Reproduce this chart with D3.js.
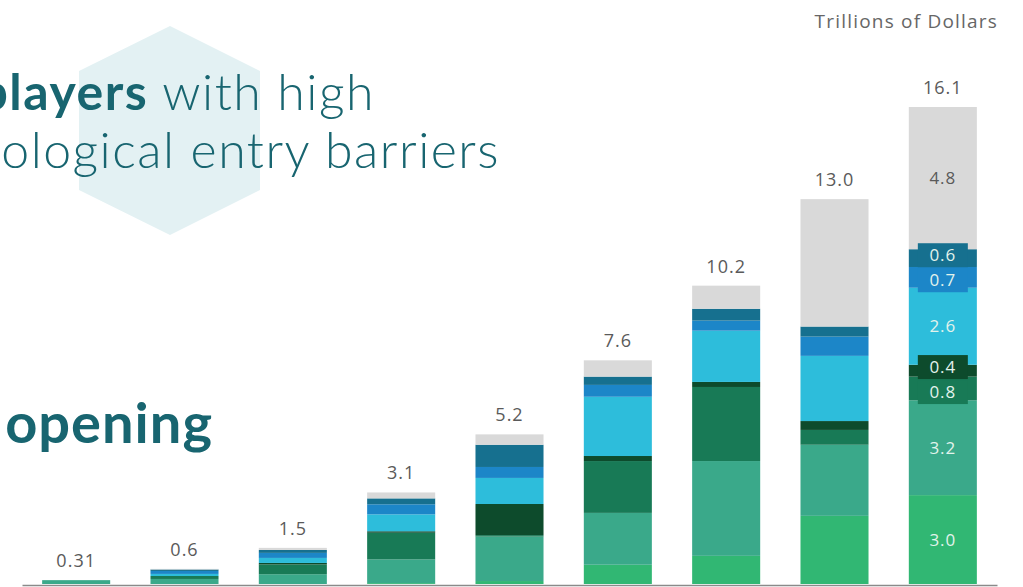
<!DOCTYPE html>
<html>
<head>
<meta charset="utf-8">
<script src="https://cdn.jsdelivr.net/npm/d3@7"></script>
<style>
  body { margin: 0; background: #fff; overflow: hidden; }
  svg { display: block; }
</style>
</head>
<body>
<div id="chart"></div>
<script>
// bars, left to right (no axis labels visible in the picture)
var categories = ["P1", "P2", "P3", "P4", "P5", "P6", "P7", "P8", "P9"];
var totals = ["0.31", "0.6", "1.5", "3.1", "5.2", "7.6", "10.2", "13.0", "16.1"];

// stacked segments, bottom to top
var seriesNames = ["lightGreen", "teal", "midGreen", "darkGreen", "cyan", "blue", "darkBlue", "grey"];
var lightGreen = [0,    0,    0,    0.03, 0.1,  0.65, 0.95, 2.3,  3.0];
var teal       = [0.13, 0.17, 0.33, 0.8,  1.5,  1.75, 3.2,  2.4,  3.2];
var midGreen   = [0,    0.1,  0.33, 0.9,  0.05, 1.75, 2.5,  0.5,  0.8];
var darkGreen  = [0,    0,    0.05, 0.05, 1.05, 0.17, 0.17, 0.3,  0.4];
var cyan       = [0,    0.07, 0.17, 0.57, 0.88, 2.0,  1.73, 2.2,  2.6];
var blue       = [0,    0.1,  0.17, 0.34, 0.37, 0.4,  0.34, 0.65, 0.7];
var darkBlue   = [0,    0.05, 0.1,  0.2,  0.75, 0.28, 0.4,  0.34, 0.6];
var grey       = [0,    0.02, 0.07, 0.2,  0.35, 0.55, 0.78, 4.3,  4.8];

var colors = {
  lightGreen: "#31b773", teal: "#3aa98a", midGreen: "#187a56", darkGreen: "#0d4b2c",
  cyan: "#2dbddb", blue: "#1c86c8", darkBlue: "#16708f", grey: "#d9d9d9"
};
var labelledBar = 8; // only the last bar carries segment labels

var W = 1023, H = 587;
var svg = d3.select("#chart").append("svg")
    .attr("width", W)
    .attr("height", H);

// hexagon behind the headline
var hex = [[170, 26], [260, 71], [260, 190], [170, 235], [79, 190], [79, 71]];
svg.append("path")
    .attr("d", "M" + hex.join("L") + "Z")
    .attr("fill", "#e3f1f3");

var ink = "#186570";
var t1 = svg.append("text")
    .attr("x", 375).attr("y", 110)
    .attr("text-anchor", "end")
    .style("font-family", "Lato, sans-serif")
    .style("font-size", "50px")
    .style("letter-spacing", "1.5px")
    .attr("fill", ink);
t1.append("tspan").style("font-weight", 700).text("players");
t1.append("tspan").style("font-weight", 300).text(" with high");

svg.append("text")
    .attr("x", 500).attr("y", 168)
    .attr("text-anchor", "end")
    .style("font-family", "Lato, sans-serif")
    .style("font-size", "50px")
    .style("letter-spacing", "1.5px")
    .style("font-weight", 300)
    .attr("fill", ink)
    .text("technological entry barriers");

svg.append("text")
    .attr("x", 213).attr("y", 443)
    .attr("text-anchor", "end")
    .style("font-family", "Lato, sans-serif")
    .style("font-size", "56px")
    .style("letter-spacing", "1px")
    .style("font-weight", 700)
    .attr("fill", ink)
    .text("opening");

svg.append("text")
    .attr("x", 998).attr("y", 28)
    .attr("text-anchor", "end")
    .style("font-family", "'Open Sans', sans-serif")
    .style("font-size", "19px")
    .style("letter-spacing", "1.2px")
    .attr("fill", "#666")
    .text("Trillions of Dollars");

// scales
var x = d3.scaleBand().domain(categories).range([22, 997]).paddingInner(0.372).paddingOuter(0.186);
var y = d3.scaleLinear().domain([0, 16.1]).range([584, 107]);

var table = categories.map(function(c, i) {
  var row = { cat: c, total: totals[i] };
  row.lightGreen = lightGreen[i]; row.teal = teal[i]; row.midGreen = midGreen[i];
  row.darkGreen = darkGreen[i]; row.cyan = cyan[i]; row.blue = blue[i];
  row.darkBlue = darkBlue[i]; row.grey = grey[i];
  return row;
});
var stacked = d3.stack().keys(seriesNames)(table);

var g = svg.append("g");
g.selectAll("g.layer")
  .data(stacked)
  .enter().append("g")
    .attr("class", "layer")
    .attr("fill", function(d) { return colors[d.key]; })
  .selectAll("rect")
  .data(function(d) { return d; })
  .enter().append("rect")
    .attr("x", function(d) { return x(d.data.cat); })
    .attr("width", x.bandwidth())
    .attr("y", function(d) { return y(d[1]); })
    .attr("height", function(d) { return y(d[0]) - y(d[1]); });

// baseline
svg.append("g")
    .attr("transform", "translate(0,585)")
    .call(d3.axisBottom(x).tickSize(0).tickSizeOuter(0).tickFormat(""))
    .select(".domain")
    .attr("stroke", "#8a8a8a")
    .attr("stroke-width", 1.5);

// totals above bars
svg.selectAll("text.total")
  .data(table)
  .enter().append("text")
    .attr("class", "total")
    .attr("x", function(d) { return x(d.cat) + x.bandwidth() / 2; })
    .attr("y", function(d) {
      var sum = d3.sum(seriesNames, function(k) { return d[k]; });
      return y(sum) - 13;
    })
    .attr("text-anchor", "middle")
    .style("font-family", "'Open Sans', sans-serif")
    .style("font-size", "18px")
    .style("letter-spacing", "1px")
    .attr("fill", "#5a5a5a")
    .text(function(d) { return d.total; });

// segment labels on the last bar, spread so small ones do not collide
var segs = stacked.map(function(layer) {
  var s = { key: layer.key, y0: layer[labelledBar][0], y1: layer[labelledBar][1] };
  s.top = y(s.y1); s.bot = y(s.y0); s.mid = (s.top + s.bot) / 2;
  return s;
}).reverse(); // top to bottom on screen
var gap = 25;
for (var pass = 0; pass < 10; pass++) {
  for (var i = 1; i < segs.length; i++) {
    var d = segs[i].mid - segs[i - 1].mid;
    if (d < gap) {
      var push = (gap - d) / 2;
      segs[i - 1].mid -= push;
      segs[i].mid += push;
    }
  }
}
var cx = x(categories[labelledBar]) + x.bandwidth() / 2;
var lab = svg.append("g");
segs.forEach(function(s) {
  if (s.bot - s.top < 26) {
    lab.append("rect")
      .attr("x", cx - 25).attr("y", s.mid - 12)
      .attr("width", 50).attr("height", 24)
      .attr("fill", colors[s.key]);
  }
});
segs.forEach(function(s) {
  lab.append("text")
    .attr("x", cx).attr("y", s.mid + 6)
    .attr("text-anchor", "middle")
    .style("font-family", "'Open Sans', sans-serif")
    .style("font-size", "17px")
    .style("letter-spacing", "1px")
    .attr("fill", s.key === "grey" ? "#5a5a5a" : "#e2f3ec")
    .text(d3.format(".1f")(s.y1 - s.y0));
});
</script>
</body>
</html>
